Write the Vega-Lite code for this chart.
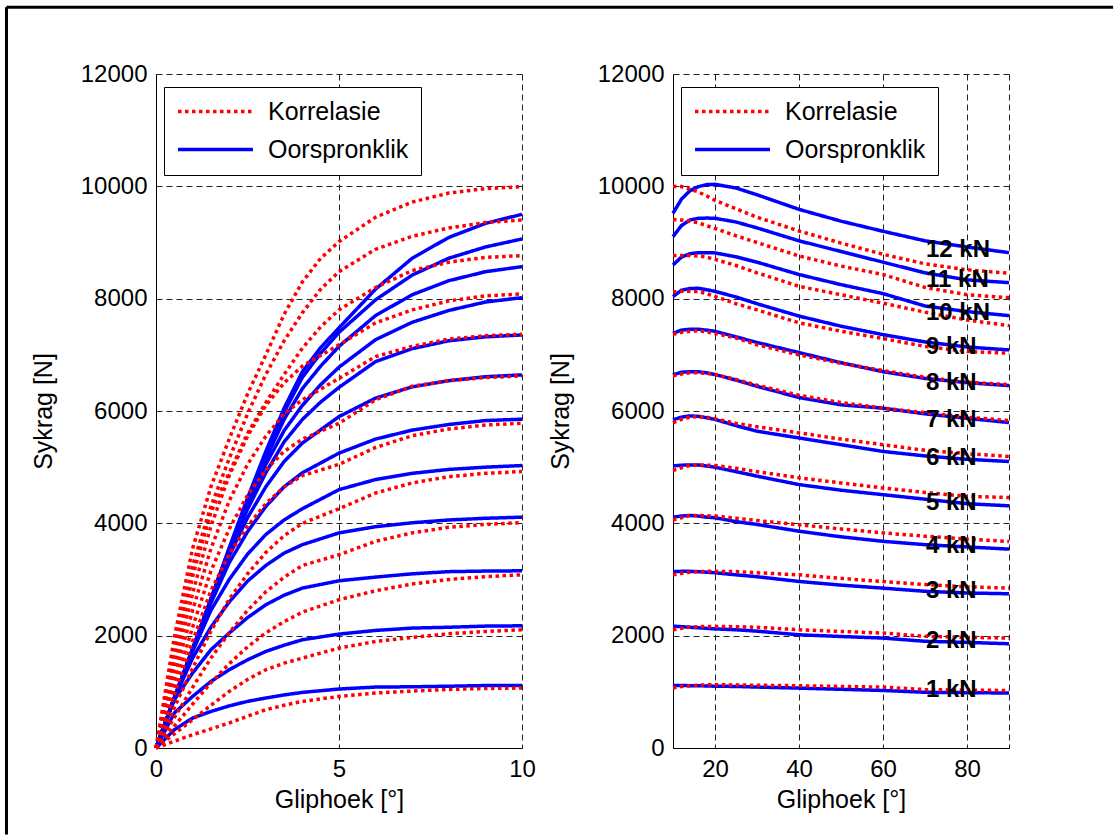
{
"$schema": "https://vega.github.io/schema/vega-lite/v6.json",
"padding": {"left": 4, "top": 5, "right": 0, "bottom": 0},
"background": "white",
"config": {
  "font": "Liberation Sans",
  "view": {"stroke": null},
  "axis": {"labelFont": "Liberation Sans", "labelFontSize": 24, "labelColor": "#000", "titleFont": "Liberation Sans", "titleFontSize": 25, "titleFontWeight": "normal", "titleColor": "#000", "domainColor": "#000", "domainWidth": 1, "ticks": false, "tickSize": 0, "labelPadding": 9, "gridColor": "#222", "gridDash": [6, 4], "gridWidth": 1, "gridOpacity": 1, "labelFlush": false, "labelOverlap": false}
},
"datasets": {
"left": [
{"s":"O","k":1,"x":0,"y":0},{"s":"O","k":1,"x":0.5,"y":325},{"s":"O","k":1,"x":1,"y":533},{"s":"O","k":1,"x":1.5,"y":650},{"s":"O","k":1,"x":2,"y":750},{"s":"O","k":1,"x":2.5,"y":830},{"s":"O","k":1,"x":3,"y":890},{"s":"O","k":1,"x":3.5,"y":945},{"s":"O","k":1,"x":4,"y":990},{"s":"O","k":1,"x":5,"y":1050},{"s":"O","k":1,"x":6,"y":1085},{"s":"O","k":1,"x":7,"y":1090},{"s":"O","k":1,"x":8,"y":1100},{"s":"O","k":1,"x":9,"y":1112},{"s":"O","k":1,"x":10,"y":1114},
{"s":"O","k":2,"x":0,"y":0},{"s":"O","k":2,"x":0.5,"y":623},{"s":"O","k":2,"x":1,"y":918},{"s":"O","k":2,"x":1.5,"y":1185},{"s":"O","k":2,"x":2,"y":1393},{"s":"O","k":2,"x":2.5,"y":1570},{"s":"O","k":2,"x":3,"y":1719},{"s":"O","k":2,"x":3.5,"y":1830},{"s":"O","k":2,"x":4,"y":1927},{"s":"O","k":2,"x":5,"y":2028},{"s":"O","k":2,"x":6,"y":2093},{"s":"O","k":2,"x":7,"y":2135},{"s":"O","k":2,"x":8,"y":2150},{"s":"O","k":2,"x":9,"y":2170},{"s":"O","k":2,"x":10,"y":2176},
{"s":"O","k":3,"x":0,"y":0},{"s":"O","k":3,"x":0.5,"y":859},{"s":"O","k":3,"x":1,"y":1334},{"s":"O","k":3,"x":1.5,"y":1749},{"s":"O","k":3,"x":2,"y":2046},{"s":"O","k":3,"x":2.5,"y":2320},{"s":"O","k":3,"x":3,"y":2550},{"s":"O","k":3,"x":3.5,"y":2720},{"s":"O","k":3,"x":4,"y":2847},{"s":"O","k":3,"x":5,"y":2977},{"s":"O","k":3,"x":6,"y":3043},{"s":"O","k":3,"x":7,"y":3101},{"s":"O","k":3,"x":8,"y":3140},{"s":"O","k":3,"x":9,"y":3150},{"s":"O","k":3,"x":10,"y":3155},
{"s":"O","k":4,"x":0,"y":0},{"s":"O","k":4,"x":0.5,"y":880},{"s":"O","k":4,"x":1,"y":1600},{"s":"O","k":4,"x":1.5,"y":2150},{"s":"O","k":4,"x":2,"y":2600},{"s":"O","k":4,"x":2.5,"y":2970},{"s":"O","k":4,"x":3,"y":3250},{"s":"O","k":4,"x":3.5,"y":3470},{"s":"O","k":4,"x":4,"y":3620},{"s":"O","k":4,"x":5,"y":3830},{"s":"O","k":4,"x":6,"y":3940},{"s":"O","k":4,"x":7,"y":4010},{"s":"O","k":4,"x":8,"y":4060},{"s":"O","k":4,"x":9,"y":4090},{"s":"O","k":4,"x":10,"y":4110},
{"s":"O","k":5,"x":0,"y":0},{"s":"O","k":5,"x":0.5,"y":890},{"s":"O","k":5,"x":1,"y":1720},{"s":"O","k":5,"x":1.5,"y":2450},{"s":"O","k":5,"x":2,"y":3000},{"s":"O","k":5,"x":2.5,"y":3450},{"s":"O","k":5,"x":3,"y":3800},{"s":"O","k":5,"x":3.5,"y":4060},{"s":"O","k":5,"x":4,"y":4260},{"s":"O","k":5,"x":5,"y":4600},{"s":"O","k":5,"x":6,"y":4780},{"s":"O","k":5,"x":7,"y":4890},{"s":"O","k":5,"x":8,"y":4960},{"s":"O","k":5,"x":9,"y":5000},{"s":"O","k":5,"x":10,"y":5029},
{"s":"O","k":6,"x":0,"y":0},{"s":"O","k":6,"x":0.5,"y":890},{"s":"O","k":6,"x":1,"y":1750},{"s":"O","k":6,"x":1.5,"y":2580},{"s":"O","k":6,"x":2,"y":3300},{"s":"O","k":6,"x":2.5,"y":3850},{"s":"O","k":6,"x":3,"y":4300},{"s":"O","k":6,"x":3.5,"y":4650},{"s":"O","k":6,"x":4,"y":4900},{"s":"O","k":6,"x":5,"y":5250},{"s":"O","k":6,"x":6,"y":5500},{"s":"O","k":6,"x":7,"y":5660},{"s":"O","k":6,"x":8,"y":5760},{"s":"O","k":6,"x":9,"y":5830},{"s":"O","k":6,"x":10,"y":5854},
{"s":"O","k":7,"x":0,"y":0},{"s":"O","k":7,"x":0.5,"y":890},{"s":"O","k":7,"x":1,"y":1760},{"s":"O","k":7,"x":1.5,"y":2620},{"s":"O","k":7,"x":2,"y":3420},{"s":"O","k":7,"x":2.5,"y":4100},{"s":"O","k":7,"x":3,"y":4650},{"s":"O","k":7,"x":3.5,"y":5100},{"s":"O","k":7,"x":4,"y":5430},{"s":"O","k":7,"x":5,"y":5900},{"s":"O","k":7,"x":6,"y":6230},{"s":"O","k":7,"x":7,"y":6430},{"s":"O","k":7,"x":8,"y":6540},{"s":"O","k":7,"x":9,"y":6610},{"s":"O","k":7,"x":10,"y":6643},
{"s":"O","k":8,"x":0,"y":0},{"s":"O","k":8,"x":0.5,"y":890},{"s":"O","k":8,"x":1,"y":1760},{"s":"O","k":8,"x":1.5,"y":2640},{"s":"O","k":8,"x":2,"y":3480},{"s":"O","k":8,"x":2.5,"y":4250},{"s":"O","k":8,"x":3,"y":4900},{"s":"O","k":8,"x":3.5,"y":5450},{"s":"O","k":8,"x":4,"y":5850},{"s":"O","k":8,"x":4.5,"y":6160},{"s":"O","k":8,"x":5,"y":6420},{"s":"O","k":8,"x":6,"y":6880},{"s":"O","k":8,"x":7,"y":7110},{"s":"O","k":8,"x":8,"y":7250},{"s":"O","k":8,"x":9,"y":7320},{"s":"O","k":8,"x":10,"y":7354},
{"s":"O","k":9,"x":0,"y":0},{"s":"O","k":9,"x":0.5,"y":890},{"s":"O","k":9,"x":1,"y":1760},{"s":"O","k":9,"x":1.5,"y":2650},{"s":"O","k":9,"x":2,"y":3520},{"s":"O","k":9,"x":2.5,"y":4320},{"s":"O","k":9,"x":3,"y":5050},{"s":"O","k":9,"x":3.5,"y":5650},{"s":"O","k":9,"x":4,"y":6100},{"s":"O","k":9,"x":4.5,"y":6470},{"s":"O","k":9,"x":5,"y":6780},{"s":"O","k":9,"x":6,"y":7270},{"s":"O","k":9,"x":7,"y":7580},{"s":"O","k":9,"x":8,"y":7790},{"s":"O","k":9,"x":9,"y":7940},{"s":"O","k":9,"x":10,"y":8018},
{"s":"O","k":10,"x":0,"y":0},{"s":"O","k":10,"x":0.5,"y":890},{"s":"O","k":10,"x":1,"y":1760},{"s":"O","k":10,"x":1.5,"y":2650},{"s":"O","k":10,"x":2,"y":3540},{"s":"O","k":10,"x":2.5,"y":4380},{"s":"O","k":10,"x":3,"y":5150},{"s":"O","k":10,"x":3.5,"y":5850},{"s":"O","k":10,"x":4,"y":6400},{"s":"O","k":10,"x":4.5,"y":6800},{"s":"O","k":10,"x":5,"y":7150},{"s":"O","k":10,"x":6,"y":7700},{"s":"O","k":10,"x":7,"y":8070},{"s":"O","k":10,"x":8,"y":8320},{"s":"O","k":10,"x":9,"y":8480},{"s":"O","k":10,"x":10,"y":8570},
{"s":"O","k":11,"x":0,"y":0},{"s":"O","k":11,"x":0.5,"y":890},{"s":"O","k":11,"x":1,"y":1760},{"s":"O","k":11,"x":1.5,"y":2650},{"s":"O","k":11,"x":2,"y":3550},{"s":"O","k":11,"x":2.5,"y":4420},{"s":"O","k":11,"x":3,"y":5230},{"s":"O","k":11,"x":3.5,"y":5980},{"s":"O","k":11,"x":4,"y":6600},{"s":"O","k":11,"x":4.5,"y":7030},{"s":"O","k":11,"x":5,"y":7400},{"s":"O","k":11,"x":6,"y":7980},{"s":"O","k":11,"x":7,"y":8420},{"s":"O","k":11,"x":8,"y":8720},{"s":"O","k":11,"x":9,"y":8920},{"s":"O","k":11,"x":10,"y":9063},
{"s":"O","k":12,"x":0,"y":0},{"s":"O","k":12,"x":0.5,"y":890},{"s":"O","k":12,"x":1,"y":1760},{"s":"O","k":12,"x":1.5,"y":2650},{"s":"O","k":12,"x":2,"y":3560},{"s":"O","k":12,"x":2.5,"y":4450},{"s":"O","k":12,"x":3,"y":5280},{"s":"O","k":12,"x":3.5,"y":6050},{"s":"O","k":12,"x":4,"y":6700},{"s":"O","k":12,"x":4.5,"y":7130},{"s":"O","k":12,"x":5,"y":7480},{"s":"O","k":12,"x":6,"y":8170},{"s":"O","k":12,"x":7,"y":8720},{"s":"O","k":12,"x":8,"y":9090},{"s":"O","k":12,"x":9,"y":9340},{"s":"O","k":12,"x":10,"y":9502},
{"s":"K","k":1,"x":0,"y":0},{"s":"K","k":1,"x":0.5,"y":120},{"s":"K","k":1,"x":1,"y":237},{"s":"K","k":1,"x":1.5,"y":340},{"s":"K","k":1,"x":2,"y":445},{"s":"K","k":1,"x":2.5,"y":565},{"s":"K","k":1,"x":3,"y":681},{"s":"K","k":1,"x":3.5,"y":760},{"s":"K","k":1,"x":4,"y":830},{"s":"K","k":1,"x":5,"y":918},{"s":"K","k":1,"x":6,"y":979},{"s":"K","k":1,"x":7,"y":1014},{"s":"K","k":1,"x":8,"y":1043},{"s":"K","k":1,"x":9,"y":1060},{"s":"K","k":1,"x":10,"y":1068},
{"s":"K","k":2,"x":0,"y":0},{"s":"K","k":2,"x":0.5,"y":250},{"s":"K","k":2,"x":1,"y":504},{"s":"K","k":2,"x":1.5,"y":760},{"s":"K","k":2,"x":2,"y":1007},{"s":"K","k":2,"x":2.5,"y":1220},{"s":"K","k":2,"x":3,"y":1393},{"s":"K","k":2,"x":3.5,"y":1510},{"s":"K","k":2,"x":4,"y":1601},{"s":"K","k":2,"x":5,"y":1779},{"s":"K","k":2,"x":6,"y":1897},{"s":"K","k":2,"x":7,"y":1968},{"s":"K","k":2,"x":8,"y":2034},{"s":"K","k":2,"x":9,"y":2075},{"s":"K","k":2,"x":10,"y":2105},
{"s":"K","k":3,"x":0,"y":0},{"s":"K","k":3,"x":0.5,"y":390},{"s":"K","k":3,"x":1,"y":780},{"s":"K","k":3,"x":1.5,"y":1160},{"s":"K","k":3,"x":2,"y":1500},{"s":"K","k":3,"x":2.5,"y":1800},{"s":"K","k":3,"x":3,"y":2050},{"s":"K","k":3,"x":3.5,"y":2250},{"s":"K","k":3,"x":4,"y":2420},{"s":"K","k":3,"x":5,"y":2640},{"s":"K","k":3,"x":6,"y":2800},{"s":"K","k":3,"x":7,"y":2920},{"s":"K","k":3,"x":8,"y":3000},{"s":"K","k":3,"x":9,"y":3050},{"s":"K","k":3,"x":10,"y":3084},
{"s":"K","k":4,"x":0,"y":0},{"s":"K","k":4,"x":0.5,"y":540},{"s":"K","k":4,"x":1,"y":1080},{"s":"K","k":4,"x":1.5,"y":1600},{"s":"K","k":4,"x":2,"y":2050},{"s":"K","k":4,"x":2.5,"y":2450},{"s":"K","k":4,"x":3,"y":2780},{"s":"K","k":4,"x":3.5,"y":3040},{"s":"K","k":4,"x":4,"y":3250},{"s":"K","k":4,"x":5,"y":3440},{"s":"K","k":4,"x":6,"y":3680},{"s":"K","k":4,"x":7,"y":3830},{"s":"K","k":4,"x":8,"y":3930},{"s":"K","k":4,"x":9,"y":3980},{"s":"K","k":4,"x":10,"y":4014},
{"s":"K","k":5,"x":0,"y":0},{"s":"K","k":5,"x":0.5,"y":720},{"s":"K","k":5,"x":1,"y":1420},{"s":"K","k":5,"x":1.5,"y":2080},{"s":"K","k":5,"x":2,"y":2650},{"s":"K","k":5,"x":2.5,"y":3100},{"s":"K","k":5,"x":3,"y":3480},{"s":"K","k":5,"x":3.5,"y":3780},{"s":"K","k":5,"x":4,"y":4000},{"s":"K","k":5,"x":5,"y":4260},{"s":"K","k":5,"x":6,"y":4540},{"s":"K","k":5,"x":7,"y":4720},{"s":"K","k":5,"x":8,"y":4830},{"s":"K","k":5,"x":9,"y":4890},{"s":"K","k":5,"x":10,"y":4922},
{"s":"K","k":6,"x":0,"y":0},{"s":"K","k":6,"x":0.5,"y":950},{"s":"K","k":6,"x":1,"y":1900},{"s":"K","k":6,"x":1.5,"y":2800},{"s":"K","k":6,"x":2,"y":3450},{"s":"K","k":6,"x":2.5,"y":3950},{"s":"K","k":6,"x":3,"y":4350},{"s":"K","k":6,"x":3.5,"y":4650},{"s":"K","k":6,"x":4,"y":4850},{"s":"K","k":6,"x":5,"y":5050},{"s":"K","k":6,"x":6,"y":5350},{"s":"K","k":6,"x":7,"y":5560},{"s":"K","k":6,"x":8,"y":5680},{"s":"K","k":6,"x":9,"y":5750},{"s":"K","k":6,"x":10,"y":5783},
{"s":"K","k":7,"x":0,"y":0},{"s":"K","k":7,"x":0.5,"y":1080},{"s":"K","k":7,"x":1,"y":2150},{"s":"K","k":7,"x":1.5,"y":3150},{"s":"K","k":7,"x":2,"y":3900},{"s":"K","k":7,"x":2.5,"y":4500},{"s":"K","k":7,"x":3,"y":4950},{"s":"K","k":7,"x":3.5,"y":5280},{"s":"K","k":7,"x":4,"y":5500},{"s":"K","k":7,"x":5,"y":5780},{"s":"K","k":7,"x":6,"y":6200},{"s":"K","k":7,"x":7,"y":6440},{"s":"K","k":7,"x":8,"y":6540},{"s":"K","k":7,"x":9,"y":6595},{"s":"K","k":7,"x":10,"y":6625},
{"s":"K","k":8,"x":0,"y":0},{"s":"K","k":8,"x":0.5,"y":1250},{"s":"K","k":8,"x":1,"y":2450},{"s":"K","k":8,"x":1.5,"y":3550},{"s":"K","k":8,"x":2,"y":4400},{"s":"K","k":8,"x":2.5,"y":5050},{"s":"K","k":8,"x":3,"y":5550},{"s":"K","k":8,"x":3.5,"y":5950},{"s":"K","k":8,"x":4,"y":6200},{"s":"K","k":8,"x":5,"y":6580},{"s":"K","k":8,"x":6,"y":6970},{"s":"K","k":8,"x":7,"y":7150},{"s":"K","k":8,"x":8,"y":7280},{"s":"K","k":8,"x":9,"y":7340},{"s":"K","k":8,"x":10,"y":7367},
{"s":"K","k":9,"x":0,"y":0},{"s":"K","k":9,"x":0.5,"y":1400},{"s":"K","k":9,"x":1,"y":2750},{"s":"K","k":9,"x":1.5,"y":3950},{"s":"K","k":9,"x":2,"y":4850},{"s":"K","k":9,"x":2.5,"y":5550},{"s":"K","k":9,"x":3,"y":6100},{"s":"K","k":9,"x":3.5,"y":6500},{"s":"K","k":9,"x":4,"y":6800},{"s":"K","k":9,"x":5,"y":7180},{"s":"K","k":9,"x":6,"y":7570},{"s":"K","k":9,"x":7,"y":7800},{"s":"K","k":9,"x":8,"y":7960},{"s":"K","k":9,"x":9,"y":8050},{"s":"K","k":9,"x":10,"y":8084},
{"s":"K","k":10,"x":0,"y":0},{"s":"K","k":10,"x":0.5,"y":1550},{"s":"K","k":10,"x":1,"y":3050},{"s":"K","k":10,"x":1.5,"y":4200},{"s":"K","k":10,"x":2,"y":4900},{"s":"K","k":10,"x":2.5,"y":5600},{"s":"K","k":10,"x":3,"y":6150},{"s":"K","k":10,"x":3.5,"y":6650},{"s":"K","k":10,"x":4,"y":7120},{"s":"K","k":10,"x":4.5,"y":7500},{"s":"K","k":10,"x":5,"y":7800},{"s":"K","k":10,"x":6,"y":8200},{"s":"K","k":10,"x":7,"y":8500},{"s":"K","k":10,"x":8,"y":8650},{"s":"K","k":10,"x":9,"y":8735},{"s":"K","k":10,"x":10,"y":8766},
{"s":"K","k":11,"x":0,"y":0},{"s":"K","k":11,"x":0.5,"y":1730},{"s":"K","k":11,"x":1,"y":3250},{"s":"K","k":11,"x":1.5,"y":4300},{"s":"K","k":11,"x":2,"y":5150},{"s":"K","k":11,"x":2.5,"y":5950},{"s":"K","k":11,"x":3,"y":6650},{"s":"K","k":11,"x":3.5,"y":7250},{"s":"K","k":11,"x":4,"y":7750},{"s":"K","k":11,"x":4.5,"y":8170},{"s":"K","k":11,"x":5,"y":8481},{"s":"K","k":11,"x":6,"y":8880},{"s":"K","k":11,"x":7,"y":9110},{"s":"K","k":11,"x":8,"y":9260},{"s":"K","k":11,"x":9,"y":9355},{"s":"K","k":11,"x":10,"y":9401},
{"s":"K","k":12,"x":0,"y":0},{"s":"K","k":12,"x":0.5,"y":1970},{"s":"K","k":12,"x":1,"y":3550},{"s":"K","k":12,"x":1.5,"y":4650},{"s":"K","k":12,"x":2,"y":5500},{"s":"K","k":12,"x":2.5,"y":6300},{"s":"K","k":12,"x":3,"y":7000},{"s":"K","k":12,"x":3.5,"y":7720},{"s":"K","k":12,"x":4,"y":8300},{"s":"K","k":12,"x":4.5,"y":8720},{"s":"K","k":12,"x":5,"y":9015},{"s":"K","k":12,"x":6,"y":9450},{"s":"K","k":12,"x":7,"y":9720},{"s":"K","k":12,"x":8,"y":9880},{"s":"K","k":12,"x":9,"y":9960},{"s":"K","k":12,"x":10,"y":9993}
],
"right": [
{"s":"O","k":1,"x":10,"y":1114},{"s":"O","k":1,"x":12,"y":1112},{"s":"O","k":1,"x":14,"y":1110},{"s":"O","k":1,"x":16,"y":1108},{"s":"O","k":1,"x":18,"y":1105},{"s":"O","k":1,"x":20,"y":1100},{"s":"O","k":1,"x":25,"y":1096},{"s":"O","k":1,"x":30,"y":1085},{"s":"O","k":1,"x":40,"y":1066},{"s":"O","k":1,"x":50,"y":1045},{"s":"O","k":1,"x":60,"y":1024},{"s":"O","k":1,"x":70,"y":992},{"s":"O","k":1,"x":80,"y":985},{"s":"O","k":1,"x":90,"y":979},
{"s":"O","k":2,"x":10,"y":2170},{"s":"O","k":2,"x":12,"y":2160},{"s":"O","k":2,"x":14,"y":2150},{"s":"O","k":2,"x":16,"y":2140},{"s":"O","k":2,"x":18,"y":2130},{"s":"O","k":2,"x":20,"y":2120},{"s":"O","k":2,"x":25,"y":2105},{"s":"O","k":2,"x":30,"y":2080},{"s":"O","k":2,"x":40,"y":2016},{"s":"O","k":2,"x":50,"y":1985},{"s":"O","k":2,"x":60,"y":1957},{"s":"O","k":2,"x":70,"y":1900},{"s":"O","k":2,"x":80,"y":1880},{"s":"O","k":2,"x":90,"y":1856},
{"s":"O","k":3,"x":10,"y":3142},{"s":"O","k":3,"x":12,"y":3145},{"s":"O","k":3,"x":14,"y":3145},{"s":"O","k":3,"x":16,"y":3140},{"s":"O","k":3,"x":18,"y":3130},{"s":"O","k":3,"x":20,"y":3120},{"s":"O","k":3,"x":25,"y":3083},{"s":"O","k":3,"x":30,"y":3050},{"s":"O","k":3,"x":40,"y":2965},{"s":"O","k":3,"x":50,"y":2900},{"s":"O","k":3,"x":60,"y":2846},{"s":"O","k":3,"x":70,"y":2790},{"s":"O","k":3,"x":80,"y":2760},{"s":"O","k":3,"x":90,"y":2746},
{"s":"O","k":4,"x":10,"y":4110},{"s":"O","k":4,"x":12,"y":4130},{"s":"O","k":4,"x":14,"y":4140},{"s":"O","k":4,"x":16,"y":4130},{"s":"O","k":4,"x":18,"y":4110},{"s":"O","k":4,"x":20,"y":4100},{"s":"O","k":4,"x":25,"y":4030},{"s":"O","k":4,"x":30,"y":3980},{"s":"O","k":4,"x":40,"y":3860},{"s":"O","k":4,"x":50,"y":3760},{"s":"O","k":4,"x":60,"y":3680},{"s":"O","k":4,"x":70,"y":3620},{"s":"O","k":4,"x":80,"y":3580},{"s":"O","k":4,"x":90,"y":3541},
{"s":"O","k":5,"x":10,"y":5023},{"s":"O","k":5,"x":12,"y":5035},{"s":"O","k":5,"x":14,"y":5040},{"s":"O","k":5,"x":16,"y":5040},{"s":"O","k":5,"x":18,"y":5020},{"s":"O","k":5,"x":20,"y":5000},{"s":"O","k":5,"x":25,"y":4920},{"s":"O","k":5,"x":30,"y":4840},{"s":"O","k":5,"x":40,"y":4690},{"s":"O","k":5,"x":50,"y":4590},{"s":"O","k":5,"x":60,"y":4510},{"s":"O","k":5,"x":70,"y":4430},{"s":"O","k":5,"x":80,"y":4350},{"s":"O","k":5,"x":90,"y":4312},
{"s":"O","k":6,"x":10,"y":5842},{"s":"O","k":6,"x":12,"y":5890},{"s":"O","k":6,"x":14,"y":5913},{"s":"O","k":6,"x":16,"y":5905},{"s":"O","k":6,"x":18,"y":5880},{"s":"O","k":6,"x":20,"y":5850},{"s":"O","k":6,"x":25,"y":5740},{"s":"O","k":6,"x":30,"y":5640},{"s":"O","k":6,"x":40,"y":5520},{"s":"O","k":6,"x":50,"y":5400},{"s":"O","k":6,"x":60,"y":5280},{"s":"O","k":6,"x":70,"y":5200},{"s":"O","k":6,"x":80,"y":5140},{"s":"O","k":6,"x":90,"y":5101},
{"s":"O","k":7,"x":10,"y":6643},{"s":"O","k":7,"x":12,"y":6690},{"s":"O","k":7,"x":14,"y":6700},{"s":"O","k":7,"x":16,"y":6700},{"s":"O","k":7,"x":18,"y":6680},{"s":"O","k":7,"x":20,"y":6650},{"s":"O","k":7,"x":25,"y":6550},{"s":"O","k":7,"x":30,"y":6440},{"s":"O","k":7,"x":40,"y":6240},{"s":"O","k":7,"x":50,"y":6110},{"s":"O","k":7,"x":60,"y":6050},{"s":"O","k":7,"x":70,"y":5950},{"s":"O","k":7,"x":80,"y":5870},{"s":"O","k":7,"x":90,"y":5794},
{"s":"O","k":8,"x":10,"y":7384},{"s":"O","k":8,"x":12,"y":7440},{"s":"O","k":8,"x":14,"y":7456},{"s":"O","k":8,"x":16,"y":7456},{"s":"O","k":8,"x":18,"y":7440},{"s":"O","k":8,"x":20,"y":7420},{"s":"O","k":8,"x":25,"y":7320},{"s":"O","k":8,"x":30,"y":7220},{"s":"O","k":8,"x":40,"y":7040},{"s":"O","k":8,"x":50,"y":6860},{"s":"O","k":8,"x":60,"y":6700},{"s":"O","k":8,"x":70,"y":6580},{"s":"O","k":8,"x":80,"y":6505},{"s":"O","k":8,"x":90,"y":6452},
{"s":"O","k":9,"x":10,"y":8036},{"s":"O","k":9,"x":12,"y":8150},{"s":"O","k":9,"x":14,"y":8180},{"s":"O","k":9,"x":16,"y":8185},{"s":"O","k":9,"x":18,"y":8160},{"s":"O","k":9,"x":20,"y":8130},{"s":"O","k":9,"x":25,"y":8030},{"s":"O","k":9,"x":30,"y":7910},{"s":"O","k":9,"x":40,"y":7690},{"s":"O","k":9,"x":50,"y":7510},{"s":"O","k":9,"x":60,"y":7360},{"s":"O","k":9,"x":70,"y":7230},{"s":"O","k":9,"x":80,"y":7140},{"s":"O","k":9,"x":90,"y":7087},
{"s":"O","k":10,"x":10,"y":8600},{"s":"O","k":10,"x":12,"y":8740},{"s":"O","k":10,"x":14,"y":8800},{"s":"O","k":10,"x":16,"y":8819},{"s":"O","k":10,"x":18,"y":8819},{"s":"O","k":10,"x":20,"y":8815},{"s":"O","k":10,"x":25,"y":8745},{"s":"O","k":10,"x":30,"y":8650},{"s":"O","k":10,"x":40,"y":8430},{"s":"O","k":10,"x":50,"y":8250},{"s":"O","k":10,"x":60,"y":8090},{"s":"O","k":10,"x":70,"y":7870},{"s":"O","k":10,"x":80,"y":7770},{"s":"O","k":10,"x":90,"y":7698},
{"s":"O","k":11,"x":10,"y":9104},{"s":"O","k":11,"x":12,"y":9300},{"s":"O","k":11,"x":14,"y":9400},{"s":"O","k":11,"x":16,"y":9430},{"s":"O","k":11,"x":18,"y":9435},{"s":"O","k":11,"x":20,"y":9431},{"s":"O","k":11,"x":25,"y":9365},{"s":"O","k":11,"x":30,"y":9260},{"s":"O","k":11,"x":40,"y":9030},{"s":"O","k":11,"x":50,"y":8840},{"s":"O","k":11,"x":60,"y":8650},{"s":"O","k":11,"x":70,"y":8460},{"s":"O","k":11,"x":80,"y":8335},{"s":"O","k":11,"x":90,"y":8285},
{"s":"O","k":12,"x":10,"y":9520},{"s":"O","k":12,"x":12,"y":9770},{"s":"O","k":12,"x":14,"y":9920},{"s":"O","k":12,"x":16,"y":9993},{"s":"O","k":12,"x":18,"y":10030},{"s":"O","k":12,"x":20,"y":10036},{"s":"O","k":12,"x":25,"y":9970},{"s":"O","k":12,"x":30,"y":9850},{"s":"O","k":12,"x":40,"y":9590},{"s":"O","k":12,"x":50,"y":9380},{"s":"O","k":12,"x":60,"y":9200},{"s":"O","k":12,"x":70,"y":9030},{"s":"O","k":12,"x":80,"y":8920},{"s":"O","k":12,"x":90,"y":8819},
{"s":"K","k":1,"x":10,"y":1068},{"s":"K","k":1,"x":12,"y":1095},{"s":"K","k":1,"x":14,"y":1110},{"s":"K","k":1,"x":16,"y":1120},{"s":"K","k":1,"x":18,"y":1125},{"s":"K","k":1,"x":20,"y":1126},{"s":"K","k":1,"x":25,"y":1122},{"s":"K","k":1,"x":30,"y":1118},{"s":"K","k":1,"x":40,"y":1108},{"s":"K","k":1,"x":50,"y":1096},{"s":"K","k":1,"x":60,"y":1084},{"s":"K","k":1,"x":70,"y":1040},{"s":"K","k":1,"x":80,"y":1030},{"s":"K","k":1,"x":90,"y":1024},
{"s":"K","k":2,"x":10,"y":2105},{"s":"K","k":2,"x":12,"y":2130},{"s":"K","k":2,"x":14,"y":2150},{"s":"K","k":2,"x":16,"y":2160},{"s":"K","k":2,"x":18,"y":2164},{"s":"K","k":2,"x":20,"y":2164},{"s":"K","k":2,"x":25,"y":2160},{"s":"K","k":2,"x":30,"y":2150},{"s":"K","k":2,"x":40,"y":2105},{"s":"K","k":2,"x":50,"y":2075},{"s":"K","k":2,"x":60,"y":2046},{"s":"K","k":2,"x":70,"y":1990},{"s":"K","k":2,"x":80,"y":1970},{"s":"K","k":2,"x":90,"y":1957},
{"s":"K","k":3,"x":10,"y":3084},{"s":"K","k":3,"x":12,"y":3110},{"s":"K","k":3,"x":14,"y":3130},{"s":"K","k":3,"x":16,"y":3140},{"s":"K","k":3,"x":18,"y":3145},{"s":"K","k":3,"x":20,"y":3145},{"s":"K","k":3,"x":25,"y":3142},{"s":"K","k":3,"x":30,"y":3120},{"s":"K","k":3,"x":40,"y":3083},{"s":"K","k":3,"x":50,"y":3020},{"s":"K","k":3,"x":60,"y":2964},{"s":"K","k":3,"x":70,"y":2910},{"s":"K","k":3,"x":80,"y":2870},{"s":"K","k":3,"x":90,"y":2847},
{"s":"K","k":4,"x":10,"y":4060},{"s":"K","k":4,"x":12,"y":4100},{"s":"K","k":4,"x":14,"y":4140},{"s":"K","k":4,"x":16,"y":4140},{"s":"K","k":4,"x":18,"y":4135},{"s":"K","k":4,"x":20,"y":4130},{"s":"K","k":4,"x":25,"y":4090},{"s":"K","k":4,"x":30,"y":4050},{"s":"K","k":4,"x":40,"y":3975},{"s":"K","k":4,"x":50,"y":3900},{"s":"K","k":4,"x":60,"y":3830},{"s":"K","k":4,"x":70,"y":3770},{"s":"K","k":4,"x":80,"y":3720},{"s":"K","k":4,"x":90,"y":3676},
{"s":"K","k":5,"x":10,"y":4940},{"s":"K","k":5,"x":12,"y":4990},{"s":"K","k":5,"x":14,"y":5030},{"s":"K","k":5,"x":16,"y":5040},{"s":"K","k":5,"x":18,"y":5035},{"s":"K","k":5,"x":20,"y":5030},{"s":"K","k":5,"x":25,"y":4980},{"s":"K","k":5,"x":30,"y":4920},{"s":"K","k":5,"x":40,"y":4810},{"s":"K","k":5,"x":50,"y":4720},{"s":"K","k":5,"x":60,"y":4630},{"s":"K","k":5,"x":70,"y":4550},{"s":"K","k":5,"x":80,"y":4480},{"s":"K","k":5,"x":90,"y":4460},
{"s":"K","k":6,"x":10,"y":5790},{"s":"K","k":6,"x":12,"y":5850},{"s":"K","k":6,"x":14,"y":5890},{"s":"K","k":6,"x":16,"y":5900},{"s":"K","k":6,"x":18,"y":5890},{"s":"K","k":6,"x":20,"y":5860},{"s":"K","k":6,"x":25,"y":5780},{"s":"K","k":6,"x":30,"y":5720},{"s":"K","k":6,"x":40,"y":5610},{"s":"K","k":6,"x":50,"y":5500},{"s":"K","k":6,"x":60,"y":5400},{"s":"K","k":6,"x":70,"y":5300},{"s":"K","k":6,"x":80,"y":5240},{"s":"K","k":6,"x":90,"y":5190},
{"s":"K","k":7,"x":10,"y":6625},{"s":"K","k":7,"x":12,"y":6660},{"s":"K","k":7,"x":14,"y":6680},{"s":"K","k":7,"x":16,"y":6680},{"s":"K","k":7,"x":18,"y":6670},{"s":"K","k":7,"x":20,"y":6650},{"s":"K","k":7,"x":25,"y":6560},{"s":"K","k":7,"x":30,"y":6460},{"s":"K","k":7,"x":40,"y":6280},{"s":"K","k":7,"x":50,"y":6150},{"s":"K","k":7,"x":60,"y":6050},{"s":"K","k":7,"x":70,"y":5970},{"s":"K","k":7,"x":80,"y":5890},{"s":"K","k":7,"x":90,"y":5830},
{"s":"K","k":8,"x":10,"y":7367},{"s":"K","k":8,"x":12,"y":7400},{"s":"K","k":8,"x":14,"y":7420},{"s":"K","k":8,"x":16,"y":7430},{"s":"K","k":8,"x":18,"y":7410},{"s":"K","k":8,"x":20,"y":7380},{"s":"K","k":8,"x":25,"y":7300},{"s":"K","k":8,"x":30,"y":7180},{"s":"K","k":8,"x":40,"y":7000},{"s":"K","k":8,"x":50,"y":6850},{"s":"K","k":8,"x":60,"y":6720},{"s":"K","k":8,"x":70,"y":6600},{"s":"K","k":8,"x":80,"y":6510},{"s":"K","k":8,"x":90,"y":6470},
{"s":"K","k":9,"x":10,"y":8120},{"s":"K","k":9,"x":12,"y":8130},{"s":"K","k":9,"x":14,"y":8130},{"s":"K","k":9,"x":16,"y":8125},{"s":"K","k":9,"x":18,"y":8090},{"s":"K","k":9,"x":20,"y":8040},{"s":"K","k":9,"x":25,"y":7910},{"s":"K","k":9,"x":30,"y":7800},{"s":"K","k":9,"x":40,"y":7570},{"s":"K","k":9,"x":50,"y":7420},{"s":"K","k":9,"x":60,"y":7290},{"s":"K","k":9,"x":70,"y":7150},{"s":"K","k":9,"x":80,"y":7060},{"s":"K","k":9,"x":90,"y":7029},
{"s":"K","k":10,"x":10,"y":8766},{"s":"K","k":10,"x":12,"y":8770},{"s":"K","k":10,"x":14,"y":8770},{"s":"K","k":10,"x":16,"y":8760},{"s":"K","k":10,"x":18,"y":8740},{"s":"K","k":10,"x":20,"y":8700},{"s":"K","k":10,"x":25,"y":8590},{"s":"K","k":10,"x":30,"y":8460},{"s":"K","k":10,"x":40,"y":8220},{"s":"K","k":10,"x":50,"y":8070},{"s":"K","k":10,"x":60,"y":7920},{"s":"K","k":10,"x":70,"y":7760},{"s":"K","k":10,"x":80,"y":7620},{"s":"K","k":10,"x":90,"y":7520},
{"s":"K","k":11,"x":10,"y":9410},{"s":"K","k":11,"x":12,"y":9400},{"s":"K","k":11,"x":14,"y":9380},{"s":"K","k":11,"x":16,"y":9350},{"s":"K","k":11,"x":18,"y":9300},{"s":"K","k":11,"x":20,"y":9250},{"s":"K","k":11,"x":25,"y":9120},{"s":"K","k":11,"x":30,"y":9000},{"s":"K","k":11,"x":40,"y":8760},{"s":"K","k":11,"x":50,"y":8580},{"s":"K","k":11,"x":60,"y":8430},{"s":"K","k":11,"x":70,"y":8200},{"s":"K","k":11,"x":80,"y":8070},{"s":"K","k":11,"x":90,"y":8018},
{"s":"K","k":12,"x":10,"y":10000},{"s":"K","k":12,"x":12,"y":9995},{"s":"K","k":12,"x":14,"y":9950},{"s":"K","k":12,"x":16,"y":9900},{"s":"K","k":12,"x":18,"y":9830},{"s":"K","k":12,"x":20,"y":9750},{"s":"K","k":12,"x":25,"y":9600},{"s":"K","k":12,"x":30,"y":9450},{"s":"K","k":12,"x":40,"y":9205},{"s":"K","k":12,"x":50,"y":8990},{"s":"K","k":12,"x":60,"y":8790},{"s":"K","k":12,"x":70,"y":8620},{"s":"K","k":12,"x":80,"y":8515},{"s":"K","k":12,"x":90,"y":8452}
]
},
"bounds": "flush",
"spacing": 151,
"resolve": {"scale": {"color": "independent", "strokeDash": "independent"}, "legend": {"color": "independent", "strokeDash": "independent"}},
"hconcat": [
{
  "width": 366, "height": 674,
  "layer": [
    {
      "data": {"name": "left"},
      "mark": {"type": "line", "strokeWidth": 3.5, "clip": false},
      "encoding": {
        "x": {"field": "x", "type": "quantitative", "scale": {"domain": [0, 10], "nice": false, "zero": false}, "axis": {"values": [0, 5, 10], "title": "Gliphoek [°]", "titlePadding": 6}},
        "y": {"field": "y", "type": "quantitative", "scale": {"domain": [0, 12000], "nice": false}, "axis": {"values": [0, 2000, 4000, 6000, 8000, 10000, 12000], "format": "d", "title": "Sykrag [N]", "titlePadding": 24}},
        "color": {"field": "s", "type": "nominal", "scale": {"domain": ["K", "O"], "range": ["#ff0000", "#0000ff"]},
          "legend": {"title": null, "orient": "none", "legendX": 8, "legendY": 13, "symbolType": "stroke", "symbolSize": 5625, "symbolStrokeWidth": 3.5, "labelFontSize": 25, "labelFont": "Liberation Sans", "labelColor": "#000", "labelOffset": 13, "strokeColor": "#000", "fillColor": "#fff", "padding": 12, "rowPadding": 12, "clipHeight": 25, "labelExpr": "datum.label == 'K' ? 'Korrelasie' : 'Oorspronklik'"}},
        "strokeDash": {"field": "s", "type": "nominal", "scale": {"domain": ["K", "O"], "range": [[3.5, 3.5], [1, 0]]},
          "legend": {"title": null, "orient": "none", "legendX": 8, "legendY": 13, "symbolType": "stroke", "symbolSize": 5625, "symbolStrokeWidth": 3.5, "labelFontSize": 25, "labelFont": "Liberation Sans", "labelColor": "#000", "labelOffset": 13, "strokeColor": "#000", "fillColor": "#fff", "padding": 12, "rowPadding": 12, "clipHeight": 25, "labelExpr": "datum.label == 'K' ? 'Korrelasie' : 'Oorspronklik'"}},
        "detail": {"field": "k", "type": "nominal"}
      }
    },
    {
      "data": {"values": [{}]},
      "mark": {"type": "rule", "color": "#000", "strokeWidth": 3, "clip": false},
      "encoding": {"x": {"datum": -4.085, "type": "quantitative"}, "y": {"datum": -1540, "type": "quantitative"}, "y2": {"datum": 13190}}
    },
    {
      "data": {"values": [{}]},
      "mark": {"type": "rule", "color": "#000", "strokeWidth": 3, "clip": false},
      "encoding": {"x": {"datum": -4.085, "type": "quantitative"}, "x2": {"datum": 26.15}, "y": {"datum": 13190, "type": "quantitative"}}
    }
  ]
},
{
  "width": 336, "height": 674,
  "data": {"name": "right"},
  "layer": [
    {
      "mark": {"type": "line", "strokeWidth": 3.5, "clip": false},
      "encoding": {
        "x": {"field": "x", "type": "quantitative", "scale": {"domain": [10, 90], "nice": false, "zero": false}, "axis": {"values": [20, 40, 60, 80, 90], "labelExpr": "datum.value == 90 ? '' : datum.label", "title": "Gliphoek [°]", "titlePadding": 6}},
        "y": {"field": "y", "type": "quantitative", "scale": {"domain": [0, 12000], "nice": false}, "axis": {"values": [0, 2000, 4000, 6000, 8000, 10000, 12000], "format": "d", "title": "Sykrag [N]", "titlePadding": 24}},
        "color": {"field": "s", "type": "nominal", "scale": {"domain": ["K", "O"], "range": ["#ff0000", "#0000ff"]},
          "legend": {"title": null, "orient": "none", "legendX": 8, "legendY": 13, "symbolType": "stroke", "symbolSize": 5625, "symbolStrokeWidth": 3.5, "labelFontSize": 25, "labelFont": "Liberation Sans", "labelColor": "#000", "labelOffset": 13, "strokeColor": "#000", "fillColor": "#fff", "padding": 12, "rowPadding": 12, "clipHeight": 25, "labelExpr": "datum.label == 'K' ? 'Korrelasie' : 'Oorspronklik'"}},
        "strokeDash": {"field": "s", "type": "nominal", "scale": {"domain": ["K", "O"], "range": [[3.5, 3.5], [1, 0]]},
          "legend": {"title": null, "orient": "none", "legendX": 8, "legendY": 13, "symbolType": "stroke", "symbolSize": 5625, "symbolStrokeWidth": 3.5, "labelFontSize": 25, "labelFont": "Liberation Sans", "labelColor": "#000", "labelOffset": 13, "strokeColor": "#000", "fillColor": "#fff", "padding": 12, "rowPadding": 12, "clipHeight": 25, "labelExpr": "datum.label == 'K' ? 'Korrelasie' : 'Oorspronklik'"}},
        "detail": {"field": "k", "type": "nominal"}
      }
    },
    {
      "transform": [{"filter": "datum.s == 'O' && datum.x == 90"}, {"calculate": "datum.k + ' kN'", "as": "lbl"}],
      "mark": {"type": "text", "align": "left", "baseline": "middle", "dx": -83, "dy": -3, "fontSize": 24, "fontWeight": "bold", "font": "Liberation Sans", "color": "#000"},
      "encoding": {
        "x": {"field": "x", "type": "quantitative"},
        "y": {"field": "y", "type": "quantitative"},
        "text": {"field": "lbl"}
      }
    }
  ]
}
]
}
